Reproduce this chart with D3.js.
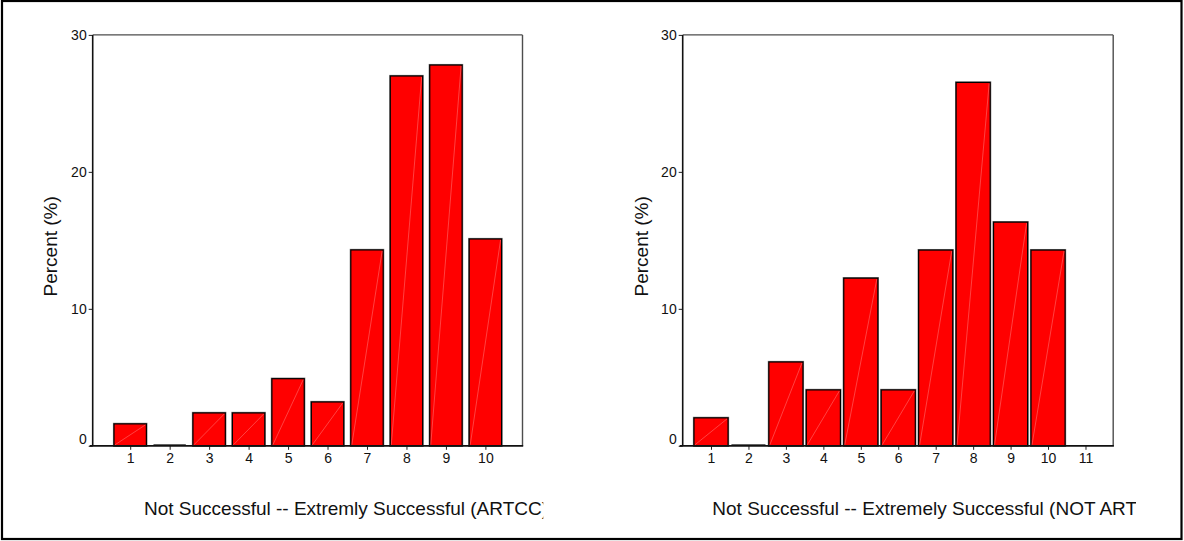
<!DOCTYPE html>
<html>
<head>
<meta charset="utf-8">
<script src="https://cdn.jsdelivr.net/npm/d3@7/dist/d3.min.js"></script>
<style>
  html, body { margin: 0; padding: 0; background: #fff; }
  svg { display: block; font-family: Arial, "Liberation Sans", Helvetica, sans-serif; }
</style>
</head>
<body>
<svg id="chart" width="1184" height="541"></svg>
<script>
// ---- data ----
const categoriesLeft = [1, 2, 3, 4, 5, 6, 7, 8, 9, 10];
const valuesLeft = [1.6, 0, 2.4, 2.4, 4.9, 3.2, 14.3, 27.0, 27.8, 15.1];
const categoriesRight = [1, 2, 3, 4, 5, 6, 7, 8, 9, 10, 11];
const valuesRight = [2.04, 0, 6.12, 4.08, 12.24, 4.08, 14.29, 26.53, 16.33, 14.29, 0];
const yTickValues = [0, 10, 20, 30];
const yTitle = "Percent (%)";
const xTitleLeft = "Not Successful -- Extremly Successful (ARTCC)";
const xTitleRight = "Not Successful -- Extremely Successful (NOT ARTCC)";

const svg = d3.select("#chart");

// outer border
svg.append("rect")
  .attr("x", 2).attr("y", 1).attr("width", 1179.5).attr("height", 538)
  .attr("fill", "none").attr("stroke", "#000").attr("stroke-width", 2.2);

function drawPanel(cfg) {
  const g = svg.append("g");
  const x = d3.scaleLinear().domain(cfg.xDomain).range([cfg.left, cfg.right]);
  const y = d3.scaleLinear().domain([0, 30]).range([cfg.bottom, cfg.top]);
  const step = x(2) - x(1);
  const bw = step * cfg.barFrac;

  // frame: top & right (gray), left & bottom (black)
  g.append("line").attr("x1", cfg.left).attr("x2", cfg.right).attr("y1", cfg.top).attr("y2", cfg.top)
    .attr("stroke", "#4d4d4d").attr("stroke-width", 1.4);
  g.append("line").attr("x1", cfg.right).attr("x2", cfg.right).attr("y1", cfg.top).attr("y2", cfg.bottom)
    .attr("stroke", "#4d4d4d").attr("stroke-width", 1.4);

  // bars
  const bars = g.append("g");
  cfg.cats.forEach((c, i) => {
    const v = cfg.vals[i];
    const x0 = x(c) - bw / 2, y0 = y(v), h = y(0) - y(v);
    if (v > 0) {
      bars.append("rect")
        .attr("x", x0).attr("y", y0).attr("width", bw).attr("height", h)
        .attr("fill", "#ff0000").attr("stroke", "#7a7a7a").attr("stroke-width", 2.2);
      bars.append("rect")
        .attr("x", x0).attr("y", y0).attr("width", bw).attr("height", h)
        .attr("fill", "#ff0000").attr("stroke", "#000").attr("stroke-width", 1.2);
      bars.append("line")
        .attr("x1", x0 + 1).attr("y1", y(0) - 1).attr("x2", x0 + bw - 1).attr("y2", y0 + 1)
        .attr("stroke", "#ff8a8a").attr("stroke-width", 0.6).attr("opacity", 0.8);
    } else if (cfg.drawZero[i]) {
      bars.append("line")
        .attr("x1", x0).attr("x2", x0 + bw).attr("y1", y(0) - 1).attr("y2", y(0) - 1)
        .attr("stroke", "#222").attr("stroke-width", 1);
    }
  });

  // y axis
  const yAxis = d3.axisLeft(y).tickValues(yTickValues).tickSize(4).tickPadding(2).tickFormat(d3.format("d"));
  const ya = g.append("g").attr("transform", `translate(${cfg.left},0)`).call(yAxis);
  ya.select(".domain").remove();
  ya.selectAll(".tick line").attr("stroke", "#222");
  ya.selectAll(".tick").attr("transform", d => `translate(0,${Math.min(y(d), y(0) - 7) + 0.5})`);
  ya.selectAll(".tick line").attr("transform", d => `translate(0,${y(d) - Math.min(y(d), y(0) - 7)})`);
  ya.selectAll(".tick text").attr("font-size", 14).attr("fill", "#111").attr("font-family", "Arial, 'Liberation Sans', sans-serif");
  g.append("line").attr("x1", cfg.left).attr("x2", cfg.left).attr("y1", cfg.top).attr("y2", cfg.bottom)
    .attr("stroke", "#111").attr("stroke-width", 1.6);

  // x axis
  const xAxis = d3.axisBottom(x).tickValues(cfg.cats).tickSize(4).tickPadding(3).tickFormat(d3.format("d"));
  const xa = g.append("g").attr("transform", `translate(0,${cfg.bottom})`).call(xAxis);
  xa.select(".domain").remove();
  xa.selectAll(".tick line").attr("stroke", "#222");
  xa.selectAll(".tick text").attr("font-size", 14).attr("fill", "#111").attr("font-family", "Arial, 'Liberation Sans', sans-serif");
  g.append("line").attr("x1", cfg.left - 3).attr("x2", cfg.right + 0.7).attr("y1", cfg.bottom).attr("y2", cfg.bottom)
    .attr("stroke", "#111").attr("stroke-width", 1.8);

  // y title
  g.append("text")
    .attr("transform", `translate(${cfg.yTitleX},${(cfg.top + cfg.bottom) / 2 + 6}) rotate(-90)`)
    .attr("text-anchor", "middle").attr("dy", "0.35em")
    .attr("font-size", 19).attr("fill", "#111")
    .text(yTitle);

  // x title (clipped)
  const clipId = "clip" + cfg.id;
  svg.append("clipPath").attr("id", clipId).append("rect")
    .attr("x", cfg.xTitleX - 5).attr("y", 480).attr("width", cfg.clipRight - cfg.xTitleX + 5).attr("height", 50);
  g.append("text")
    .attr("clip-path", `url(#${clipId})`)
    .attr("x", cfg.xTitleX).attr("y", 515)
    .attr("font-size", 19).attr("fill", "#111")
    .text(cfg.xTitle);
}

drawPanel({
  id: "L", cats: categoriesLeft, vals: valuesLeft,
  drawZero: categoriesLeft.map(() => true),
  xDomain: [0.05, 10.94], left: 92.7, right: 522.5, top: 34.9, bottom: 445.8,
  barFrac: 0.82, yTitleX: 50, xTitleX: 144, clipRight: 543.3, xTitle: xTitleLeft
});
drawPanel({
  id: "R", cats: categoriesRight, vals: valuesRight,
  drawZero: categoriesRight.map(c => c !== 11),
  xDomain: [0.244, 11.74], left: 682.7, right: 1113.2, top: 34.9, bottom: 445.8,
  barFrac: 0.91, yTitleX: 641, xTitleX: 712.3, clipRight: 1136, xTitle: xTitleRight
});
</script>
</body>
</html>
